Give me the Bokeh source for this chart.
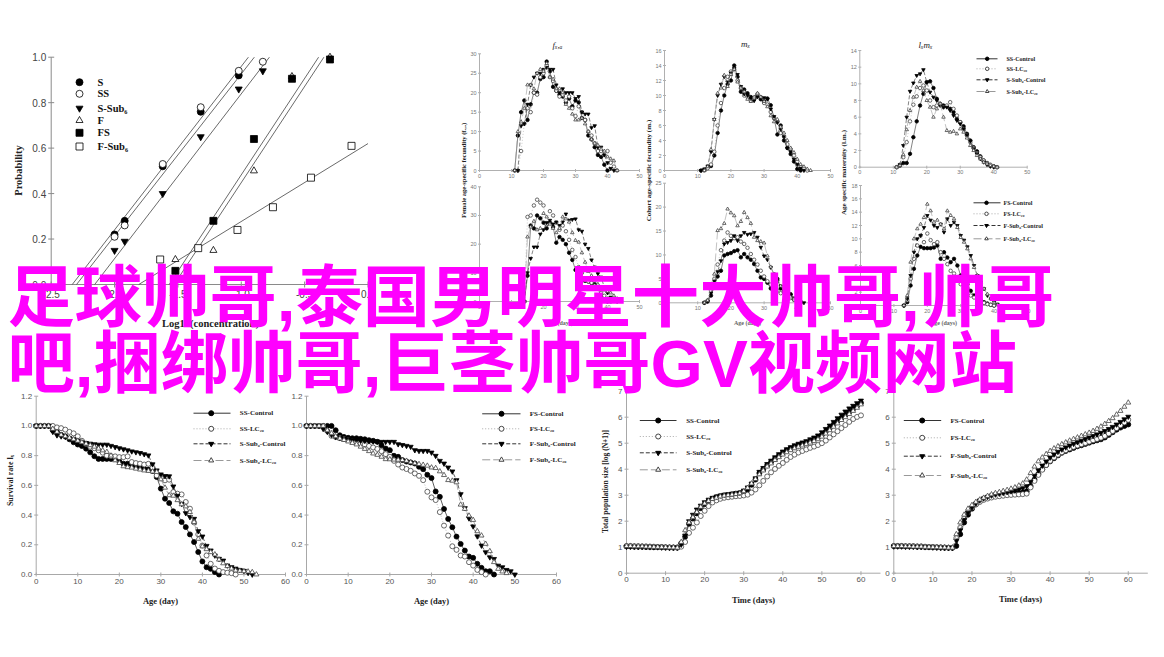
import math
from bokeh.plotting import figure
from bokeh.models import Range1d
from bokeh.core.properties import value
from bokeh.embed import file_html
from bokeh.resources import INLINE

# ---------------- DATA ----------------
# Panel A: probability vs log10(concentration)
conc_S = [-2.0, -1.92, -1.62, -1.32, -1.02]
prob_S = [0.22, 0.28, 0.52, 0.76, 0.92]
conc_SS = [-2.0, -1.92, -1.62, -1.32, -1.02, -0.83]
prob_SS = [0.21, 0.26, 0.53, 0.78, 0.94, 0.98]
conc_SSub = [-2.0, -1.92, -1.62, -1.32, -1.02, -0.83]
prob_SSub = [0.15, 0.19, 0.40, 0.65, 0.86, 0.94]
conc_F = [-1.52, -1.22, -0.90, -0.60, -0.30]
prob_F = [0.11, 0.15, 0.50, 0.915, 1.0]
conc_FS = [-1.52, -1.22, -0.90, -0.60, -0.30]
prob_FS = [0.06, 0.28, 0.64, 0.905, 0.99]
conc_FSub = [-1.64, -1.34, -1.03, -0.75, -0.45, -0.13]
prob_FSub = [0.11, 0.16, 0.24, 0.34, 0.47, 0.61]
fit_S = ([-2.334, -0.944], [0.0, 1.0])
fit_SS = ([-2.30, -0.897], [0.0, 1.0])
fit_SSub = ([-2.157, -0.778], [0.0, 1.0])
fit_F = ([-1.569, -0.390], [0.0, 1.0])
fit_FS = ([-1.530, -0.348], [0.0, 1.0])
fit_FSub = ([-1.809, 0.0], [0.0, 0.62])
legendA_labels = ["S", "SS", "S-Sub\u2086", "F", "FS", "F-Sub\u2086"]

# Top-right small panels: (first day, values)
fxa_ssc = (11, [0, 9, 15, 18, 13, 17, 20, 20, 23.5, 24, 28, 25.5, 21.5, 20.5, 19.5, 19, 17.5, 18.5, 16.5, 18, 17.5, 13.5, 13, 9, 8, 6, 4, 3.5, 1.5, 0])
fxa_sslc = (12, [0, 5, 12, 16, 15, 20, 19.5, 24, 25, 27, 24, 23, 20.5, 19, 19.5, 18, 19, 16, 14, 16.5, 15, 13, 10, 9, 7, 5, 5, 4, 5, 2, 1, 0])
fxa_subc = (12, [0, 11.5, 12, 17, 22, 24, 25, 25, 26, 26.5, 26, 26, 22, 20, 21, 20, 20, 20, 18.5, 19, 15, 14.5, 14.5, 11, 11.5, 6, 6, 4, 2, 0.5, 0])
fxa_sublc = (11, [0, 10, 12.5, 16, 22, 22, 21, 25, 26, 25.5, 27.5, 24, 23.5, 21, 21, 20, 17, 16, 14.5, 13, 13, 13.5, 12, 10, 8, 7, 6.5, 5.5, 5, 3.5, 3, 2.5, 0])

mx_ssc = (11, [0, 0.1, 0.4, 0.6, 2, 5, 8, 10, 11.5, 12, 14, 12.5, 10.5, 10.8, 10.3, 9.8, 9.6, 10, 9.5, 9.2, 9.6, 8.7, 7, 4.8, 6, 4, 3, 2.2, 1.2, 0.2, 0])
mx_sslc = (12, [0, 0.3, 0.8, 2.5, 6, 9, 11, 12.5, 13.2, 13.5, 12, 11, 10, 9.8, 9.3, 9.5, 10.2, 9.8, 9, 8.8, 7.8, 7, 6.5, 5, 4.5, 3.5, 2.8, 2, 1.2, 0.6, 0.3, 0])
mx_subc = (11, [0, 0.2, 0.6, 2.5, 6.8, 10, 11.5, 12.5, 11.8, 13, 13.6, 12.8, 11.2, 10.2, 10, 9.6, 9.3, 9.8, 9.6, 9.7, 9.5, 8.2, 7.2, 6.4, 5.5, 4.5, 3, 2.5, 1.5, 0.8, 0.3, 0])
mx_sublc = (12, [0, 0.5, 2.8, 6.8, 10.3, 11, 12.7, 11.2, 12.8, 13.5, 11.8, 11, 10.5, 9.5, 9.2, 9.8, 10.3, 9.8, 9.2, 8.5, 7.3, 6.5, 6.8, 5.8, 5, 4, 3, 2.4, 1.5, 0.8, 0.5, 0.2, 0])

lm_ssc = (11, [0, 0.2, 0.5, 0.5, 1.6, 3.6, 5.5, 7.4, 8.8, 10.2, 10.3, 9.5, 8.2, 7.6, 7.4, 7.3, 7.0, 6.6, 5.8, 5.4, 4.9, 4.0, 3.2, 2.4, 1.9, 1.3, 0.8, 0.5, 0.2, 0.1, 0])
lm_sslc = (11, [0, 0.3, 1.2, 3, 5.5, 7.5, 8.5, 9.5, 9.8, 9.2, 8.0, 7.2, 7.4, 7.6, 7.2, 7.4, 7.8, 7.0, 6.2, 5.4, 4.6, 3.8, 3.0, 2.3, 1.7, 1.2, 0.8, 0.5, 0.3, 0.1, 0])
lm_subc = (12, [0.3, 2.6, 6, 9.1, 10.1, 11, 11.2, 11.7, 10.2, 9.0, 8.4, 8.0, 7.4, 7.2, 7.2, 6.8, 6.2, 5.6, 5.2, 4.6, 3.8, 3.1, 2.2, 1.6, 1.0, 0.6, 0.3, 0.1, 0])
lm_sublc = (11, [0, 0.2, 1.5, 4.5, 6.8, 8.4, 9.6, 10.3, 9.2, 8.0, 7.2, 6.0, 7.0, 7.6, 6.0, 4.4, 4.2, 4.3, 4.0, 4.6, 4.2, 3.5, 2.6, 2.0, 1.4, 1.0, 0.6, 0.4, 0.2, 0.1, 0])

fx_fsc = (14, [0, 9, 26.5, 25.5, 30, 29, 27.5, 25.5, 27.5, 26, 20.5, 22.5, 21.5, 20, 17, 14.5, 11, 7.5, 7.2, 7.2, 7.0, 6.5, 6.0, 4.5, 2, 1, 0])
fx_fslc = (14, [0, 29.5, 30, 33.5, 35.5, 34.5, 33.5, 27, 31.5, 30, 27.5, 25, 26.5, 24.5, 21.5, 18, 15.5, 12, 10, 7.5, 7, 6.5, 5.5, 4.5, 3, 2, 1, 0])
fx_fsubc = (14, [0, 10, 15, 19, 19, 23.5, 25, 27.5, 28.3, 27, 27.7, 26.5, 27.7, 30.5, 28.3, 28.6, 28.8, 25, 24.5, 20, 18.5, 14.5, 12, 9.7, 8.5, 5, 3, 1.5, 0.5, 0])
fx_fsublc = (14, [0, 22.5, 26, 28, 25, 25.5, 30.7, 29.5, 27, 25.5, 24, 25.5, 29.5, 28.8, 27.7, 24, 21.3, 20.7, 17, 13.7, 10.5, 9, 7.5, 6, 5, 4, 3.5, 3, 2, 1, 0])

cm_fsc = (12, [0, 0.3, 1.5, 3.5, 5.5, 6.7, 9.9, 10.2, 10.4, 10.8, 11, 9.5, 10.2, 9.5, 9, 8.1, 6.7, 5.3, 5, 4.2, 3, 2.2, 5, 3, 2.2, 1.5, 1.8, 0.8, 0.4, 0])
cm_fslc = (12, [0, 0.5, 2.5, 5, 8, 11, 13, 14.7, 14, 13.5, 13.7, 12.8, 12.3, 11.5, 10.2, 9, 8, 6.7, 5.5, 4.5, 3.8, 3, 2.5, 2, 2.5, 1.5, 1, 0.6, 0.3, 0])
cm_fsubc = (12, [0, 0.3, 2, 4.5, 6.5, 8.8, 12.3, 12.6, 13, 14, 13, 14, 14.7, 14.3, 14.4, 14.7, 13.7, 11.6, 9.8, 9, 7.4, 6, 4.5, 3.5, 2.5, 2, 1.5, 1, 0.5, 0.2, 0])
cm_fsublc = (12, [0, 0.5, 3.6, 6, 15.1, 15.5, 16.6, 19.6, 18.8, 18.2, 16.1, 17, 18.9, 17.8, 16.6, 13.7, 13, 12.8, 12.5, 9.8, 7.5, 6, 4.5, 3.5, 2.5, 2, 1.2, 0.8, 0.4, 0])

am_fsc = (13, [0, 0.5, 3, 5.5, 7.5, 8.8, 8.6, 8.6, 8.6, 8.7, 9, 7, 8, 7.2, 6.5, 7, 6, 4.5, 4.1, 3.2, 2.2, 1.5, 1.1, 0.8, 0.5, 0.3, 0.1, 0])
am_fslc = (13, [0, 0.8, 4, 7, 9, 10.5, 9.5, 10.8, 9.8, 9.2, 9.5, 8, 7, 6.2, 5.2, 4.8, 4, 3.2, 2.5, 2, 1.5, 1.2, 0.8, 0.6, 0.4, 0.2, 0.1, 0])
am_fsubc = (13, [0, 1, 4.5, 8, 10, 10.5, 11.7, 13.5, 12.8, 12, 11.7, 12.2, 11, 13, 12, 12.5, 12, 10.5, 9.8, 8.8, 7.5, 6, 4.5, 3.5, 2.5, 1.5, 1, 0.5, 0.2, 0])
am_fsublc = (13, [0, 1.5, 6.5, 10, 11.5, 12.2, 13.2, 15.2, 14.2, 12.5, 12.8, 12.2, 11.5, 14.2, 13.5, 13, 11.7, 10.2, 9.5, 8.5, 7, 5.7, 4.5, 3.5, 2.5, 1.7, 1, 0.4, 0.1])

# Bottom: survival rate (start at day 0)
surv_ssc = [1, 1, 1, 1, 0.97, 0.96, 0.94, 0.93, 0.91, 0.89, 0.875, 0.865, 0.847, 0.822, 0.796, 0.778, 0.778, 0.778, 0.778, 0.778, 0.762, 0.746, 0.746, 0.74, 0.73, 0.72, 0.712, 0.706, 0.697, 0.656, 0.578, 0.51, 0.481, 0.425, 0.409, 0.353, 0.319, 0.27, 0.218, 0.151, 0.088, 0.049, 0.038, 0.016, 0]
surv_sslc = [1, 1, 1, 1, 1, 0.99, 0.985, 0.975, 0.96, 0.95, 0.93, 0.9, 0.88, 0.86, 0.85, 0.836, 0.82, 0.8, 0.797, 0.795, 0.79, 0.79, 0.795, 0.757, 0.75, 0.746, 0.74, 0.745, 0.72, 0.667, 0.65, 0.634, 0.638, 0.555, 0.544, 0.539, 0.488, 0.443, 0.35, 0.27, 0.195, 0.128, 0.072, 0.04, 0.025, 0.016, 0.012, 0.009, 0]
surv_ssubc = [1, 1, 1, 1, 0.96, 0.937, 0.93, 0.926, 0.918, 0.91, 0.9, 0.89, 0.885, 0.881, 0.877, 0.874, 0.874, 0.874, 0.866, 0.858, 0.85, 0.843, 0.836, 0.829, 0.823, 0.818, 0.81, 0.802, 0.742, 0.701, 0.674, 0.663, 0.661, 0.593, 0.53, 0.476, 0.413, 0.387, 0.375, 0.292, 0.256, 0.193, 0.162, 0.128, 0.106, 0.094, 0.061, 0.05, 0.04, 0.031, 0.025, 0.011, 0]
surv_ssublc = [1, 1, 1, 1, 0.98, 0.96, 0.94, 0.93, 0.92, 0.91, 0.9, 0.89, 0.88, 0.87, 0.86, 0.847, 0.835, 0.825, 0.8, 0.768, 0.75, 0.728, 0.722, 0.719, 0.712, 0.706, 0.7, 0.697, 0.693, 0.69, 0.64, 0.584, 0.533, 0.53, 0.5, 0.472, 0.458, 0.42, 0.353, 0.24, 0.189, 0.17, 0.15, 0.135, 0.1, 0.075, 0.056, 0.04, 0.027, 0.025, 0.022, 0.02, 0.016, 0]
surv_fsc = [1, 1, 1, 1, 1, 1, 1, 0.971, 0.937, 0.926, 0.92, 0.917, 0.917, 0.913, 0.91, 0.904, 0.9, 0.893, 0.87, 0.848, 0.837, 0.799, 0.792, 0.77, 0.76, 0.754, 0.747, 0.725, 0.709, 0.671, 0.649, 0.559, 0.523, 0.441, 0.374, 0.318, 0.255, 0.206, 0.161, 0.121, 0.112, 0.072, 0.045, 0.022, 0.022, 0]
surv_fslc = [1, 1, 1, 1, 1, 0.966, 0.933, 0.925, 0.918, 0.912, 0.905, 0.898, 0.89, 0.882, 0.874, 0.865, 0.855, 0.845, 0.83, 0.81, 0.792, 0.765, 0.74, 0.72, 0.71, 0.698, 0.68, 0.664, 0.635, 0.557, 0.519, 0.501, 0.42, 0.329, 0.262, 0.19, 0.166, 0.128, 0.121, 0.083, 0.06, 0.031, 0.016, 0]
surv_fsubc = [1, 1, 1, 1, 0.98, 0.96, 0.94, 0.925, 0.92, 0.915, 0.91, 0.905, 0.905, 0.9, 0.9, 0.898, 0.896, 0.895, 0.893, 0.893, 0.893, 0.893, 0.877, 0.872, 0.866, 0.86, 0.837, 0.832, 0.832, 0.832, 0.821, 0.799, 0.765, 0.747, 0.72, 0.694, 0.635, 0.541, 0.447, 0.378, 0.324, 0.257, 0.195, 0.15, 0.116, 0.105, 0.06, 0.049, 0.031, 0.022, 0]
surv_fsublc = [1, 1, 1, 1, 1, 0.97, 0.95, 0.93, 0.915, 0.905, 0.895, 0.885, 0.875, 0.86, 0.845, 0.83, 0.814, 0.805, 0.792, 0.776, 0.775, 0.773, 0.772, 0.77, 0.765, 0.755, 0.748, 0.743, 0.738, 0.732, 0.72, 0.716, 0.694, 0.669, 0.635, 0.631, 0.62, 0.47, 0.441, 0.396, 0.367, 0.291, 0.262, 0.206, 0.157, 0.083, 0.038, 0.02, 0.009]

# Bottom: total population size log(N+1), days 0..60
pop_ssc = [1.03, 1.03, 1.02, 1.02, 1.02, 1.01, 1.01, 1.0, 1.0, 1.0, 0.99, 0.99, 0.99, 0.99, 1.15, 1.4, 1.9, 2.1, 2.3, 2.5, 2.65, 2.78, 2.86, 2.92, 2.96, 2.99, 3.01, 3.03, 3.06, 3.08, 3.12, 3.22, 3.4, 3.6, 3.85, 4.0, 4.15, 4.28, 4.4, 4.52, 4.62, 4.72, 4.8, 4.86, 4.92, 4.97, 5.02, 5.08, 5.15, 5.22, 5.32, 5.45, 5.58, 5.72, 5.85, 5.97, 6.08, 6.2, 6.32, 6.43, 6.55]
pop_sslc = [1.05, 1.05, 1.04, 1.04, 1.03, 1.03, 1.02, 1.02, 1.01, 1.01, 1.0, 0.99, 0.98, 0.98, 1.02, 1.2, 1.55, 1.75, 1.95, 2.2, 2.4, 2.58, 2.72, 2.8, 2.86, 2.9, 2.92, 2.94, 2.96, 2.97, 2.99, 3.02, 3.1, 3.22, 3.38, 3.55, 3.72, 3.88, 4.01, 4.13, 4.24, 4.36, 4.47, 4.56, 4.64, 4.7, 4.76, 4.82, 4.87, 4.93, 5.0, 5.1, 5.22, 5.34, 5.46, 5.58, 5.7, 5.82, 5.93, 6.01, 6.07]
pop_ssubc = [1.02, 1.02, 1.02, 1.01, 1.01, 1.01, 1.0, 1.0, 1.0, 0.99, 0.99, 0.98, 0.98, 0.98, 1.1, 1.45, 2.0, 2.25, 2.45, 2.6, 2.73, 2.83, 2.9, 2.95, 2.99, 3.02, 3.04, 3.06, 3.08, 3.1, 3.18, 3.3, 3.45, 3.65, 3.9, 4.05, 4.2, 4.33, 4.46, 4.58, 4.68, 4.77, 4.85, 4.92, 4.98, 5.03, 5.08, 5.15, 5.22, 5.3, 5.42, 5.55, 5.68, 5.82, 5.96, 6.1, 6.22, 6.34, 6.44, 6.54, 6.64]
pop_ssublc = [1.04, 1.04, 1.03, 1.03, 1.03, 1.02, 1.02, 1.01, 1.01, 1.0, 1.0, 0.99, 0.99, 0.98, 1.2, 1.65, 1.95, 2.15, 2.35, 2.55, 2.68, 2.78, 2.85, 2.9, 2.95, 2.98, 3.0, 3.02, 3.04, 3.07, 3.15, 3.28, 3.45, 3.62, 3.8, 3.95, 4.1, 4.22, 4.35, 4.46, 4.56, 4.65, 4.73, 4.8, 4.86, 4.91, 4.96, 5.02, 5.08, 5.15, 5.25, 5.37, 5.5, 5.63, 5.76, 5.89, 6.0, 6.12, 6.24, 6.36, 6.49]
pop_fsc = [1.04, 1.04, 1.04, 1.03, 1.03, 1.03, 1.02, 1.02, 1.01, 1.0, 1.0, 0.99, 0.99, 0.98, 0.98, 0.98, 1.05, 1.5, 1.95, 2.25, 2.48, 2.65, 2.77, 2.85, 2.9, 2.95, 2.99, 3.03, 3.05, 3.06, 3.07, 3.08, 3.09, 3.1, 3.15, 3.35, 3.6, 3.82, 4.0, 4.16, 4.3, 4.42, 4.53, 4.63, 4.7, 4.76, 4.82, 4.88, 4.92, 4.97, 5.02, 5.07, 5.11, 5.15, 5.22, 5.32, 5.42, 5.52, 5.6, 5.66, 5.72]
pop_fslc = [1.05, 1.05, 1.05, 1.04, 1.04, 1.04, 1.03, 1.03, 1.02, 1.01, 1.01, 1.0, 0.99, 0.99, 0.98, 0.98, 1.35, 1.75, 2.1, 2.35, 2.52, 2.64, 2.74, 2.82, 2.87, 2.91, 2.94, 2.96, 2.98, 3.0, 3.01, 3.02, 3.03, 3.04, 3.06, 3.3, 3.55, 3.78, 3.98, 4.16, 4.32, 4.45, 4.56, 4.65, 4.73, 4.8, 4.86, 4.91, 4.96, 5.01, 5.06, 5.11, 5.16, 5.21, 5.28, 5.37, 5.47, 5.58, 5.69, 5.8, 5.9]
pop_fsubc = [1.03, 1.03, 1.03, 1.02, 1.02, 1.02, 1.01, 1.01, 1.0, 1.0, 0.99, 0.99, 0.98, 0.98, 0.97, 0.97, 1.25, 1.65, 2.05, 2.32, 2.52, 2.68, 2.8, 2.88, 2.94, 2.99, 3.03, 3.06, 3.09, 3.12, 3.15, 3.18, 3.22, 3.27, 3.35, 3.52, 3.75, 3.96, 4.14, 4.3, 4.45, 4.57, 4.67, 4.76, 4.84, 4.91, 4.98, 5.04, 5.1, 5.16, 5.22, 5.28, 5.34, 5.4, 5.47, 5.55, 5.63, 5.72, 5.82, 5.92, 6.02]
pop_fsublc = [1.04, 1.04, 1.04, 1.03, 1.03, 1.02, 1.02, 1.02, 1.01, 1.01, 1.0, 1.0, 0.99, 0.99, 0.98, 0.98, 1.5, 1.95, 2.25, 2.48, 2.62, 2.74, 2.83, 2.9, 2.97, 3.03, 3.08, 3.12, 3.16, 3.2, 3.25, 3.3, 3.37, 3.45, 3.6, 3.85, 4.1, 4.3, 4.45, 4.58, 4.7, 4.8, 4.88, 4.96, 5.03, 5.1, 5.16, 5.22, 5.28, 5.34, 5.4, 5.47, 5.55, 5.64, 5.74, 5.85, 5.96, 6.1, 6.24, 6.4, 6.56]

legend_S = ["SS-Control", "SS-LC\u2082\u2080", "S-Sub\u2086-Control", "S-Sub\u2086-LC\u2082\u2080"]
legend_F = ["FS-Control", "FS-LC\u2082\u2080", "F-Sub\u2086-Control", "F-Sub\u2086-LC\u2082\u2080"]
overlay_lines = ["足球帅哥,泰国男明星十大帅哥,帅哥", "吧,捆绑帅哥,巨茎帅哥GV视频网站"]

# ---------------- DRAWING ----------------
SERIF = value("Liberation Serif")
SANS = value("Liberation Sans")
CJK = value("Liberation Sans, Noto Sans CJK SC")

# The frame's pixel grid is used as the reference picture's pixel grid.
p = figure(width=1148, height=641, x_range=Range1d(0, 1148), y_range=Range1d(641, 0),
           output_backend="svg", toolbar_location=None, min_border=0,
           x_axis_type=None, y_axis_type=None)
p.outline_line_color = None
p.background_fill_color = "white"
p.border_fill_color = "white"


def panel(xr, yr, px, py):
    return p.subplot(x_source=Range1d(*xr), y_source=Range1d(*yr),
                     x_target=Range1d(*px), y_target=Range1d(*py))


def axes(s, xlim, ylim, xt, yt, xl, yl, color="#999999", lab="#555555", fs="8px", tick=5, gap=4):
    x0, x1 = xlim
    y0, y1 = ylim
    s.segment(x0=[x0, x0], y0=[y0, y0], x1=[x1, x0], y1=[y0, y1], line_color=color, line_width=1)
    s.scatter(x=xt, y=[y0] * len(xt), marker="dash", angle=math.pi / 2, size=tick, line_color=color)
    s.scatter(x=[x0] * len(yt), y=yt, marker="dash", size=tick, line_color=color)
    if xl:
        s.text(x=xt, y=[y0] * len(xt), text=xl, text_align="center", text_baseline="top",
               y_offset=gap, text_font=SANS, text_font_size=fs, text_color=lab)
    if yl:
        s.text(x=[x0] * len(yt), y=yt, text=yl, text_align="right", text_baseline="middle",
               x_offset=-gap, text_font=SANS, text_font_size=fs, text_color=lab)


STY = [
    dict(marker="circle", fill="black", edge="black", line="#333333", dash="solid"),
    dict(marker="circle", fill="white", edge="#444444", line="#aaaaaa", dash="1 2"),
    dict(marker="inverted_triangle", fill="black", edge="black", line="#333333", dash="4 2"),
    dict(marker="triangle", fill="white", edge="#444444", line="#999999", dash="8 3"),
]


def series(s, xs, ys, st, size, lw=0.8):
    s.line(x=xs, y=ys, line_color=st["line"], line_dash=st["dash"], line_width=lw)
    s.scatter(x=xs, y=ys, marker=st["marker"], size=size, fill_color=st["fill"],
              line_color=st["edge"], line_width=0.8)


def day_series(s, ser, st, size):
    start, vals = ser
    series(s, list(range(start, start + len(vals))), vals, st, size, lw=0.6)


def legend(xl0, xl1, xm, xt, rows, labels, size, fs):
    for r, lab, st in zip(rows, labels, STY):
        p.line(x=[xl0, xl1], y=[r, r], line_color=st["line"], line_dash=st["dash"], line_width=1)
        p.scatter(x=[xm], y=[r], marker=st["marker"], size=size, fill_color=st["fill"], line_color=st["edge"])
    p.text(x=[xt] * len(rows), y=rows, text=labels, text_baseline="middle", text_align="left",
           text_font=SERIF, text_font_style="bold", text_font_size=fs, text_color="#222222")


def title(x, y, t, fs, angle=0.0, style="bold", color="#222222"):
    p.text(x=[x], y=[y], text=[t], angle=angle, text_align="center", text_baseline="middle",
           text_font=SERIF, text_font_style=style, text_font_size=fs, text_color=color)


# ---- Panel A ----
sA = panel((-2.5, 0.0), (0.0, 1.0), (50.7, 367.5), (284, 56.7))
axes(sA, (-2.5, 0.01), (0.0, 1.0), [-2.5, -2.0, -1.5, -1.0, -0.5, 0.0], [0, 0.2, 0.4, 0.6, 0.8, 1.0],
     ["-2.5", "-2.0", "-1.5", "-1.0", "-0.5", "0.0"], ["0.0", "0.2", "0.4", "0.6", "0.8", "1.0"],
     color="#8a8a8a", lab="#444444", fs="10px", tick=6, gap=5)
for fx, fy in [fit_S, fit_SS, fit_SSub, fit_F, fit_FS, fit_FSub]:
    sA.line(x=fx, y=fy, line_color="#444444", line_width=0.8)
A_styles = [
    ("circle", "black"), ("circle", "white"), ("inverted_triangle", "black"),
    ("triangle", "white"), ("square", "black"), ("square", "white"),
]
A_data = [(conc_S, prob_S), (conc_SS, prob_SS), (conc_SSub, prob_SSub),
          (conc_F, prob_F), (conc_FS, prob_FS), (conc_FSub, prob_FSub)]
for (mk, fc), (xs, ys) in zip(A_styles, A_data):
    sA.scatter(x=xs, y=ys, marker=mk, size=7, fill_color=fc, line_color="black", line_width=0.8)
legA_rows = [81.7, 93.3, 107.7, 120, 132.3, 146]
for (mk, fc), r in zip(A_styles, legA_rows):
    p.scatter(x=[79], y=[r], marker=mk, size=7, fill_color=fc, line_color="black", line_width=0.8)
p.text(x=[97] * 6, y=legA_rows, text=legendA_labels, text_baseline="middle", text_font=SERIF,
       text_font_style="bold", text_font_size="10.5px", text_color="#111111")
title(18, 170, "Probability", "10.5px", angle=math.pi / 2)
title(210, 323, "Log10(concentration)", "10.5px")

# ---- Top-right small panels ----
small = dict(color="#b0b0b0", lab="#777777", fs="5.5px", tick=3, gap=3)
x10 = [0, 10, 20, 30, 40, 50]
x10l = ["0", "10", "20", "30", "40", "50"]


def lbl(v):
    return [str(t) for t in v]


sB1 = panel((0, 50), (0, 30), (479, 639), (170, 53.3))
axes(sB1, (0, 50), (0, 30), x10, [0, 5, 10, 15, 20, 25, 30], x10l, lbl([0, 5, 10, 15, 20, 25, 30]), **small)
for ser, st in zip([fxa_ssc, fxa_sslc, fxa_subc, fxa_sublc], STY):
    day_series(sB1, ser, st, 3.5)

sB2 = panel((0, 50), (0, 16), (664, 830), (170, 50))
axes(sB2, (0, 50), (0, 16), x10, list(range(0, 17, 2)), x10l, lbl(range(0, 17, 2)), **small)
for ser, st in zip([mx_ssc, mx_sslc, mx_subc, mx_sublc], STY):
    day_series(sB2, ser, st, 3.5)

sB3 = panel((0, 50), (0, 14), (859.3, 1026.7), (166.7, 50))
axes(sB3, (0, 50), (0, 14), x10, list(range(0, 15, 2)), x10l, lbl(range(0, 15, 2)), **small)
for ser, st in zip([lm_ssc, lm_sslc, lm_subc, lm_sublc], STY):
    day_series(sB3, ser, st, 3.5)

sB4 = panel((0, 50), (0, 40), (479, 639), (301, 186.3))
axes(sB4, (0, 50), (0, 40), x10, [0, 10, 20, 30, 40], x10l, lbl([0, 10, 20, 30, 40]), **small)
for ser, st in zip([fx_fsc, fx_fslc, fx_fsubc, fx_fsublc], STY):
    day_series(sB4, ser, st, 3.5)

sB5 = panel((0, 50), (0, 25), (664, 830), (302.3, 182.7))
axes(sB5, (0, 50), (0, 25), x10, [0, 5, 10, 15, 20, 25], x10l, lbl([0, 5, 10, 15, 20, 25]), **small)
for ser, st in zip([cm_fsc, cm_fslc, cm_fsubc, cm_fsublc], STY):
    day_series(sB5, ser, st, 3.5)

sB6 = panel((0, 50), (0, 18), (860, 1027), (305, 185))
axes(sB6, (0, 50), (0, 18), x10, list(range(0, 19, 2)), x10l, lbl(range(0, 19, 2)), **small)
for ser, st in zip([am_fsc, am_fslc, am_fsubc, am_fsublc], STY):
    day_series(sB6, ser, st, 3.5)

title(557, 44, "f\u2093,\u2090", "9px", style="italic")
title(745, 43, "m\u2093", "9px", style="italic")
title(925, 44, "l\u2093m\u2093", "9px", style="italic")
title(463, 170, "Female age-specific fecundity (f\u2093,\u2090)", "6.5px", angle=math.pi / 2)
title(648, 170, "Cohort age-specific fecundity (m\u2093)", "7px", angle=math.pi / 2)
title(843, 172, "Age specific maternity (l\u2093m\u2093)", "7px", angle=math.pi / 2)
for cx in [559, 747, 943]:
    title(cx, 322, "Age (days)", "6px", color="#666666")
legend(976, 997, 986.7, 1006, [58.3, 68.3, 79.3, 91], legend_S, 3.5, "6px")
legend(973, 1000, 986, 1003, [202.3, 213.3, 225, 238.3], legend_F, 3.5, "6px")

# ---- Bottom panels ----
big = dict(color="#a8a8a8", lab="#555555", fs="8px", tick=4, gap=4)
x60 = [0, 10, 20, 30, 40, 50, 60]
x60l = lbl(x60)
y12 = [0, 0.2, 0.4, 0.6, 0.8, 1.0, 1.2]
y12l = ["0.0", "0.2", "0.4", "0.6", "0.8", "1.0", "1.2"]

sC1 = panel((0, 60), (0, 1.2), (35.7, 285), (574, 395.7))
axes(sC1, (0, 60), (0, 1.2), x60, y12, x60l, y12l, **big)
for vals, st in zip([surv_ssc, surv_sslc, surv_ssubc, surv_ssublc], STY):
    series(sC1, list(range(len(vals))), vals, st, 5)

sC2 = panel((0, 60), (0, 1.2), (306, 556), (574, 395.7))
axes(sC2, (0, 60), (0, 1.2), x60, y12, x60l, y12l, **big)
for vals, st in zip([surv_fsc, surv_fslc, surv_fsubc, surv_fsublc], STY):
    series(sC2, list(range(len(vals))), vals, st, 5)

y7 = [0, 1, 2, 3, 4, 5, 6, 7]
sD1 = panel((0, 65), (0, 7), (626, 880), (572.7, 390.7))
axes(sD1, (0, 65), (0, 7), x60, y7, x60l, lbl(y7), **big)
for vals, st in zip([pop_ssc, pop_sslc, pop_ssubc, pop_ssublc], STY):
    series(sD1, list(range(len(vals))), vals, st, 5)

sD2 = panel((0, 65), (0, 7), (893.3, 1147.3), (572.7, 390.7))
axes(sD2, (0, 65), (0, 7), x60, y7, x60l, lbl(y7), **big)
for vals, st in zip([pop_fsc, pop_fslc, pop_fsubc, pop_fsublc], STY):
    series(sD2, list(range(len(vals))), vals, st, 5)

legend(193, 230, 210.7, 239.3, [412.7, 428.3, 443.3, 460], legend_S, 5, "7px")
legend(481.7, 520, 501, 529.3, [413.3, 428.3, 443.3, 459.3], legend_F, 5, "7px")
legend(639.3, 676, 657.7, 685.7, [420, 436, 452.3, 469.3], legend_S, 5, "7px")
legend(903.3, 940.7, 921.7, 950, [420, 437.3, 455.7, 475], legend_F, 5, "7px")
title(160, 600, "Age (day)", "8.5px")
title(431, 600, "Age (day)", "8.5px")
title(753, 599, "Time (days)", "8.5px")
title(1020, 598, "Time (days)", "8.5px")
title(10, 480, "Survival rate l\u2093", "8px", angle=math.pi / 2)
title(605, 481, "Total population size [log (N+1)]", "7.5px", angle=math.pi / 2)

# ---- Magenta overlay text ----
p.text(x=[7, 7], y=[297, 363], text=overlay_lines, text_align="left", text_baseline="alphabetic",
       text_font=CJK, text_font_style="bold", text_font_size="67.3px", text_color="#FF00FF")

open("out.html", "w").write(file_html(p, INLINE))
